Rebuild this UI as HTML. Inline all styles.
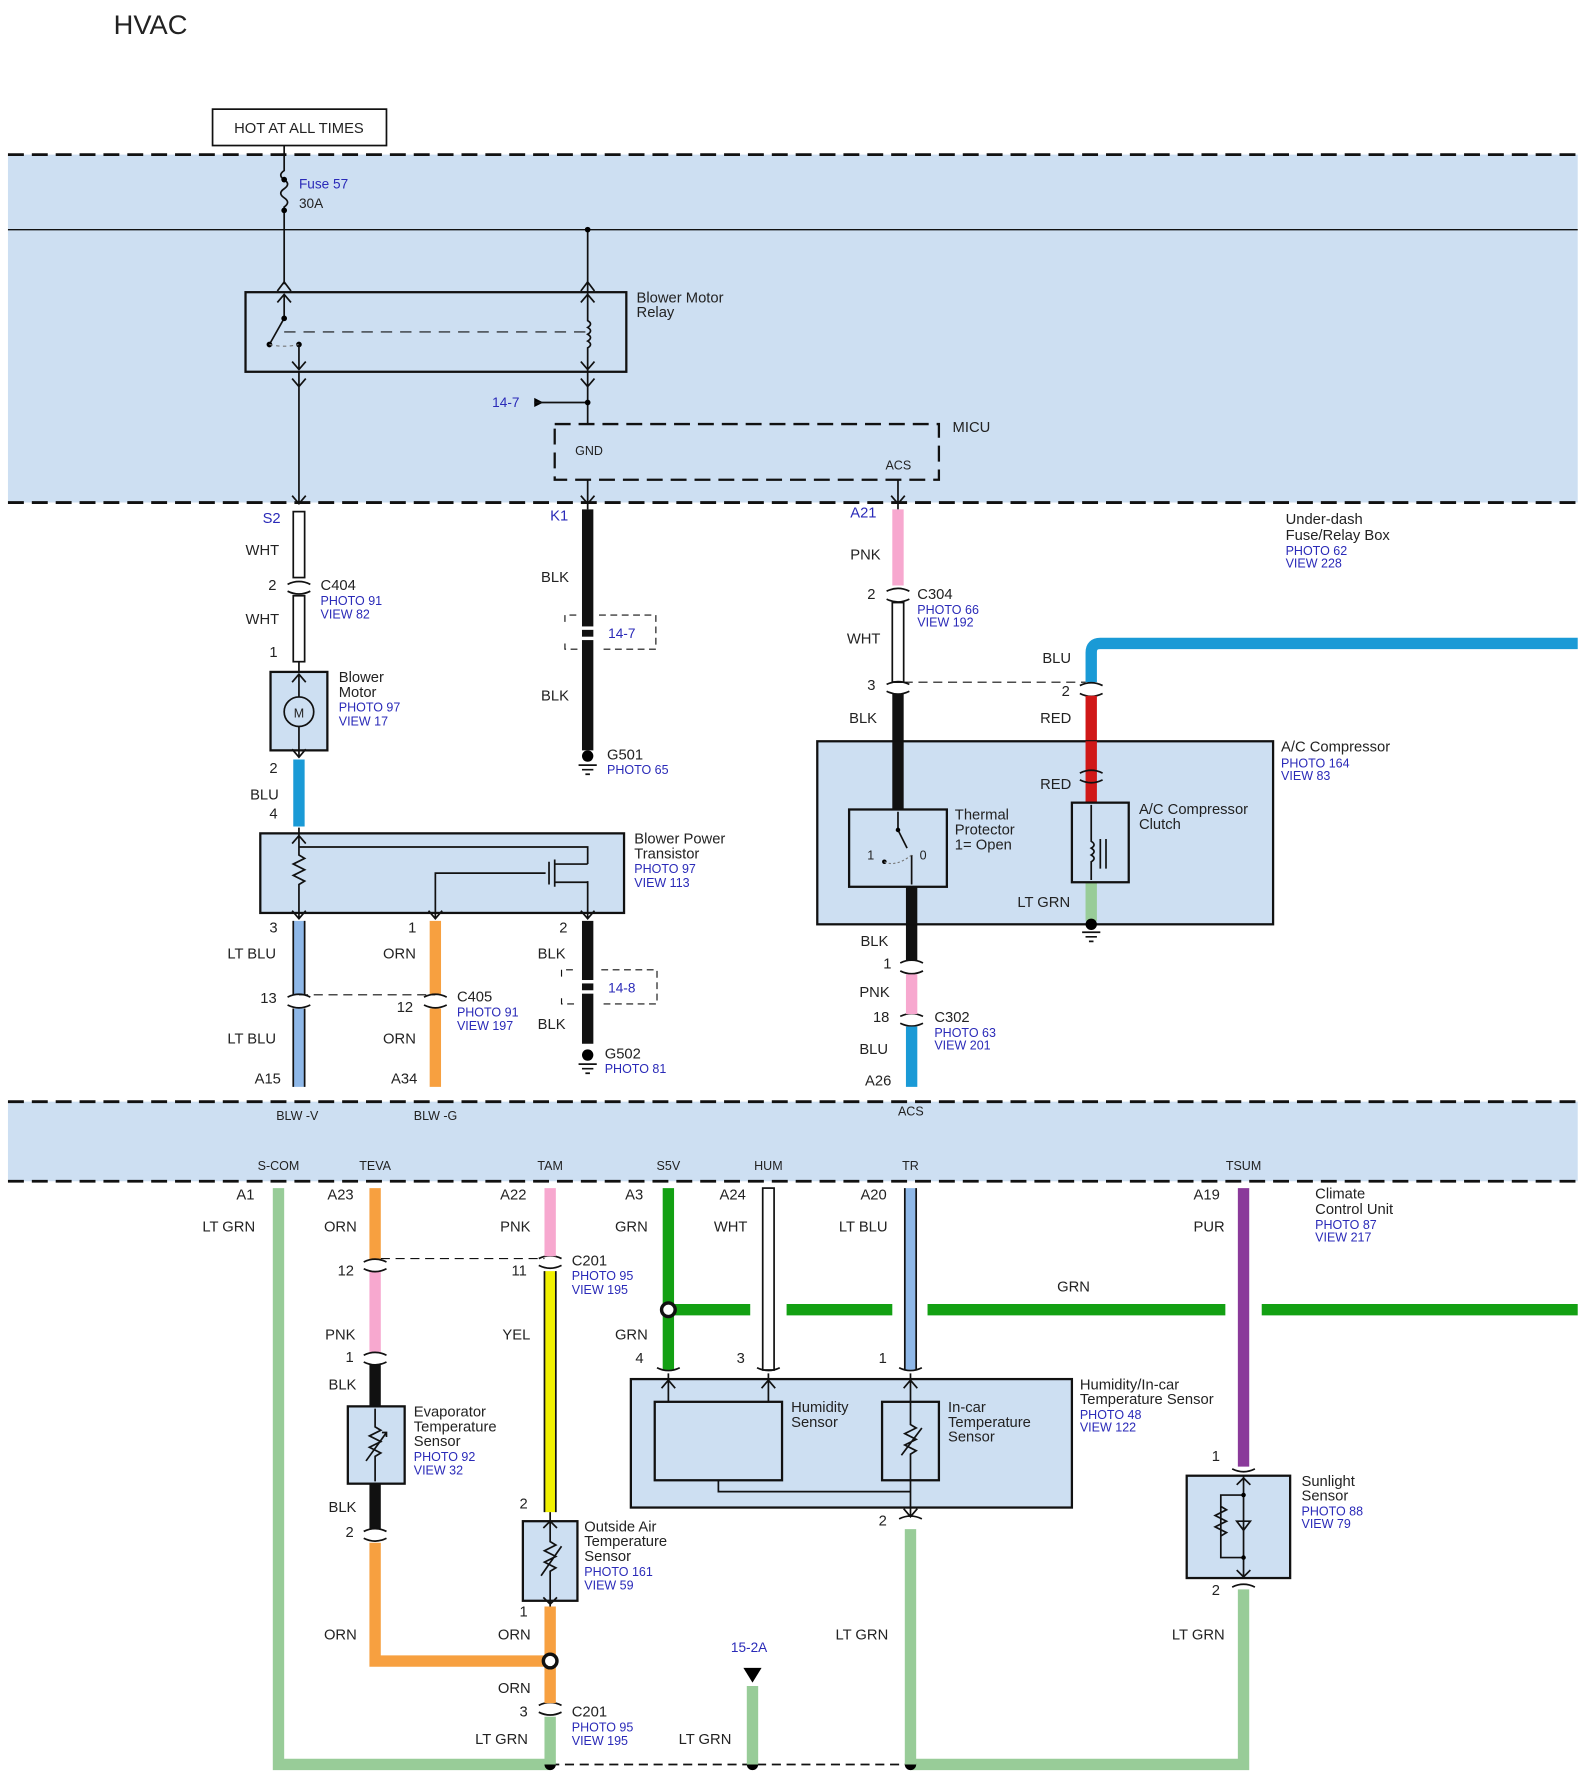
<!DOCTYPE html>
<html><head><meta charset="utf-8"><style>
html,body{margin:0;padding:0;background:#fff;}
svg{display:block}
text{font-family:"Liberation Sans",Arial,sans-serif;font-size:13px;fill:#222}
.b{fill:#2a2ab8;font-size:11px}
.s{font-size:11px}
.blk{stroke:#111;stroke-width:1.5;fill:none}
.dash{stroke:#111;stroke-width:2.5;stroke-dasharray:14 7;fill:none}
.w{stroke-width:10;fill:none}
</style></head><body>
<svg width="1580" height="1777" viewBox="0 0 1390 1563" preserveAspectRatio="none" xmlns="http://www.w3.org/2000/svg">
<text x="100" y="30" style="font-size:24px">HVAC</text>
<rect x="187" y="96" width="153" height="32" fill="#fff" stroke="#111" stroke-width="1.5"/>
<text x="263" y="117" text-anchor="middle">HOT AT ALL TIMES</text>
<rect x="7" y="136" width="1381" height="306" fill="#cddff2"/>
<rect x="7" y="969" width="1381" height="70" fill="#cddff2"/>
<line x1="7" y1="136" x2="1388" y2="136" class="dash"/>
<line x1="7" y1="202" x2="1388" y2="202" stroke="#111" stroke-width="1.2"/>
<line x1="7" y1="442" x2="1388" y2="442" class="dash"/>
<line x1="7" y1="969" x2="1388" y2="969" class="dash"/>
<line x1="7" y1="1039" x2="1388" y2="1039" class="dash"/>

<!-- fuse -->
<path class="blk" d="M250 128V150 q-6 4 0 8 q6 4 0 8 q-6 4 0 8 q6 4 0 8 V250"/>
<circle cx="250" cy="158" r="2.5"/><circle cx="250" cy="185" r="2.5"/>
<text x="263" y="166" class="b" style="font-size:12px">Fuse 57</text>
<text x="263" y="183" class="s" style="font-size:12px">30A</text>
<path class="blk" d="M244 256L250 248L256 256M244 266L250 259L256 266"/>
<!-- relay -->
<rect x="216" y="257" width="335" height="70" fill="none" stroke="#111" stroke-width="2"/>
<path class="blk" d="M250 259V280L237 303"/><circle cx="250" cy="280" r="2.5"/><circle cx="237" cy="303" r="2.5"/><circle cx="263" cy="303" r="2.5"/>
<path d="M237 303 q13 3 26 0" stroke="#777" fill="none" stroke-dasharray="3 3"/>
<path class="blk" d="M263 303V325M257 318L263 325L269 318"/>
<line x1="250" y1="292" x2="515" y2="292" stroke="#111" stroke-dasharray="10 7"/>
<path class="blk" d="M517 202V282 q5 3 0 6 q5 3 0 6 q5 3 0 6 q5 3 0 6 V373"/>
<circle cx="517" cy="202" r="2.5"/>
<path class="blk" d="M511 256L517 248L523 256M511 266L517 259L523 266M511 318L517 325L523 318M511 333L517 340L523 333"/>
<path class="blk" d="M263 327V442M257 333L263 340L269 333M257 436L263 443L269 436"/>
<text x="560" y="266">Blower Motor</text><text x="560" y="279">Relay</text>
<path d="M470 350L478 354L470 358Z"/><line x1="470" y1="354" x2="517" y2="354" stroke="#111" stroke-width="1.5"/><circle cx="517" cy="354" r="2.5"/>
<text x="433" y="358" class="b" style="font-size:12px">14-7</text>
<!-- MICU -->
<rect x="488" y="373" width="338" height="49" fill="none" stroke="#111" stroke-width="2" stroke-dasharray="14 7"/>
<text x="506" y="400" class="s">GND</text><text x="779" y="413" class="s">ACS</text><text x="838" y="380">MICU</text>
<path class="blk" d="M517 422V448M511 436L517 443L523 436M790 422V448M784 436L790 443L796 436"/>

<!-- S2 column -->
<text x="231" y="460" class="b" style="font-size:13px">S2</text>
<rect x="258" y="450" width="10" height="58" fill="#fff" stroke="#111" stroke-width="1.5"/>
<rect x="258" y="524" width="10" height="58" fill="#fff" stroke="#111" stroke-width="1.5"/>
<path class="blk" stroke-width="2" d="M253 514q10-5 20 0M253 520q10 5 20 0"/>
<text x="216" y="488">WHT</text><text x="236" y="519">2</text><text x="216" y="549">WHT</text><text x="237" y="578">1</text>
<text x="282" y="519">C404</text><text x="282" y="532" class="b">PHOTO 91</text><text x="282" y="544" class="b">VIEW 82</text>
<path class="blk" d="M263 582V591"/>
<rect x="238" y="591" width="50" height="69" fill="#cddff2" stroke="#111" stroke-width="2"/>
<circle cx="263" cy="626" r="13" fill="none" stroke="#111" stroke-width="1.5"/><text x="263" y="631" text-anchor="middle" class="s">M</text>
<path class="blk" d="M263 593V613M263 639V666M257 600L263 593L269 600M257 659L263 666L269 659"/>
<text x="298" y="600">Blower</text><text x="298" y="613">Motor</text><text x="298" y="626" class="b">PHOTO 97</text><text x="298" y="638" class="b">VIEW 17</text>
<line x1="263" y1="668" x2="263" y2="727" stroke="#1a9ad6" class="w"/>
<text x="237" y="680">2</text><text x="220" y="703">BLU</text><text x="237" y="720">4</text>
<!-- power transistor -->
<rect x="229" y="733" width="320" height="70" fill="#cddff2" stroke="#111" stroke-width="2"/>
<path class="blk" d="M263 728V752 l5 3 -10 5 10 5 -10 5 10 5 -5 3 V808M257 742L263 735L269 742M257 801L263 808L269 801"/>
<path class="blk" d="M263 745H517V760M517 775V808M511 801L517 808L523 801M480 768H383V808M377 801L383 808L389 801"/>
<path class="blk" d="M483 758V778M488 756V780M488 760H517M488 776H517"/>
<text x="558" y="742">Blower Power</text><text x="558" y="755">Transistor</text><text x="558" y="768" class="b">PHOTO 97</text><text x="558" y="780" class="b">VIEW 113</text>
<!-- below transistor -->
<line x1="263" y1="810" x2="263" y2="875" stroke="#8fb8e8" class="w"/><line x1="263" y1="887" x2="263" y2="956" stroke="#8fb8e8" class="w"/>
<path class="blk" d="M258 810V875M268 810V875M258 887V956M268 887V956" stroke-width="1"/>
<line x1="383" y1="810" x2="383" y2="875" stroke="#f7a040" class="w"/><line x1="383" y1="887" x2="383" y2="956" stroke="#f7a040" class="w"/>
<path class="blk" stroke-width="2" d="M253 877q10-5 20 0M253 884q10 5 20 0M373 877q10-5 20 0M373 884q10 5 20 0"/>
<line x1="263" y1="875" x2="383" y2="875" stroke="#111" stroke-dasharray="8 5"/>
<text x="237" y="820">3</text><text x="200" y="843">LT BLU</text><text x="229" y="882">13</text><text x="200" y="918">LT BLU</text><text x="224" y="953">A15</text>
<text x="359" y="820">1</text><text x="337" y="843">ORN</text><text x="349" y="890">12</text><text x="337" y="918">ORN</text><text x="344" y="953">A34</text>
<text x="402" y="881">C405</text><text x="402" y="894" class="b">PHOTO 91</text><text x="402" y="906" class="b">VIEW 197</text>
<line x1="517" y1="810" x2="517" y2="918" stroke="#111" class="w"/>
<path d="M494 859V853H505M529 853H578V883H529M505 883H494V877" fill="none" stroke="#111" stroke-dasharray="6 4"/>
<rect x="510" y="862" width="14" height="3" fill="#fff"/><rect x="510" y="871" width="14" height="3" fill="#fff"/>
<text x="535" y="873" class="b" style="font-size:12px">14-8</text>
<text x="492" y="820">2</text><text x="473" y="843">BLK</text><text x="473" y="905">BLK</text>
<circle cx="517" cy="928" r="5"/><path class="blk" d="M509 936H525M512 940H522M515 944H519"/>
<text x="532" y="931">G502</text><text x="532" y="944" class="b">PHOTO 81</text>
<text x="243" y="985" class="s">BLW -V</text><text x="364" y="985" class="s">BLW -G</text><text x="790" y="981" class="s">ACS</text>

<!-- K1 -->
<text x="484" y="458" class="b" style="font-size:13px">K1</text>
<line x1="517" y1="448" x2="517" y2="660" stroke="#111" class="w"/>
<path d="M497 547V541H508M527 541H577V571H527M508 571H497V565" fill="none" stroke="#111" stroke-dasharray="6 4"/>
<rect x="510" y="551" width="14" height="3" fill="#fff"/><rect x="510" y="560" width="14" height="3" fill="#fff"/>
<text x="535" y="561" class="b" style="font-size:12px">14-7</text>
<text x="476" y="512">BLK</text><text x="476" y="616">BLK</text>
<circle cx="517" cy="665" r="5"/><path class="blk" d="M509 673H525M512 677H522M515 681H519"/>
<text x="534" y="668">G501</text><text x="534" y="681" class="b">PHOTO 65</text>

<!-- A21 column -->
<text x="748" y="455" class="b" style="font-size:13px">A21</text>
<line x1="790" y1="448" x2="790" y2="515" stroke="#f7a8cf" class="w"/>
<rect x="785" y="530" width="10" height="70" fill="#fff" stroke="#111" stroke-width="1.5"/>
<path class="blk" stroke-width="2" d="M780 520q10-5 20 0M780 527q10 5 20 0M780 602q10-5 20 0M780 608q10 5 20 0"/>
<line x1="790" y1="610" x2="790" y2="712" stroke="#111" class="w"/>
<line x1="802" y1="780" x2="802" y2="845" stroke="#111" class="w"/>
<path class="blk" stroke-width="2" d="M792 847q10-5 20 0M792 854q10 5 20 0M792 894q10-5 20 0M792 900q10 5 20 0"/>
<line x1="802" y1="857" x2="802" y2="892" stroke="#f7a8cf" class="w"/>
<line x1="802" y1="903" x2="802" y2="956" stroke="#1a9ad6" class="w"/>
<text x="748" y="492">PNK</text><text x="763" y="527">2</text><text x="745" y="566">WHT</text><text x="763" y="607">3</text><text x="747" y="636">BLK</text>
<text x="807" y="527">C304</text><text x="807" y="540" class="b">PHOTO 66</text><text x="807" y="551" class="b">VIEW 192</text>
<line x1="795" y1="600" x2="955" y2="600" stroke="#111" stroke-dasharray="8 5"/>
<text x="757" y="832">BLK</text><text x="777" y="852">1</text><text x="756" y="877">PNK</text><text x="768" y="899">18</text><text x="756" y="927">BLU</text><text x="761" y="955">A26</text>
<text x="822" y="899">C302</text><text x="822" y="912" class="b">PHOTO 63</text><text x="822" y="923" class="b">VIEW 201</text>
<text x="1131" y="461">Under-dash</text><text x="1131" y="475">Fuse/Relay Box</text><text x="1131" y="488" class="b">PHOTO 62</text><text x="1131" y="499" class="b">VIEW 228</text>
<!-- A/C compressor -->
<path d="M1388 566H968Q960 566 960 574V600" stroke="#1a9ad6" class="w" stroke-width="12"/>
<path class="blk" stroke-width="2" d="M950 603q10-5 20 0M950 610q10 5 20 0"/>
<line x1="960" y1="612" x2="960" y2="708" stroke="#d01818" class="w" stroke-width="12"/>
<text x="917" y="583">BLU</text><text x="934" y="612">2</text><text x="915" y="636">RED</text>
<rect x="719" y="652" width="401" height="161" fill="#cddff2" stroke="#111" stroke-width="2"/>
<line x1="790" y1="652" x2="790" y2="712" stroke="#111" class="w"/>
<line x1="960" y1="652" x2="960" y2="706" stroke="#d01818" class="w" stroke-width="12"/>
<line x1="802" y1="780" x2="802" y2="813" stroke="#111" class="w"/>
<line x1="960" y1="776" x2="960" y2="810" stroke="#98cc98" class="w" stroke-width="12"/>
<path class="blk" d="M950 680q10-5 20 0M950 686q10 5 20 0"/>
<rect x="747" y="712" width="86" height="68" fill="#cddff2" stroke="#111" stroke-width="2"/>
<path class="blk" d="M790 714V730L798 746M802 752V778"/><circle cx="790" cy="730" r="2"/><circle cx="778" cy="758" r="2"/>
<path d="M778 758q10 5 24-6" stroke="#777" fill="none" stroke-dasharray="2 2"/>
<text x="763" y="756" class="s">1</text><text x="809" y="756" class="s">0</text>
<rect x="943" y="706" width="50" height="70" fill="#cddff2" stroke="#111" stroke-width="2"/>
<path class="blk" d="M960 708V740q5 3 0 6q5 3 0 6q5 3 0 6V774M968 738V764M973 738V764"/>
<circle cx="960" cy="813" r="5"/><path class="blk" d="M952 820H968M955 824H965M958 828H962"/>
<text x="915" y="694">RED</text><text x="895" y="798">LT GRN</text>
<text x="840" y="721">Thermal</text><text x="840" y="734">Protector</text><text x="840" y="747">1= Open</text>
<text x="1002" y="716">A/C Compressor</text><text x="1002" y="729">Clutch</text>
<text x="1127" y="661">A/C Compressor</text><text x="1127" y="675" class="b">PHOTO 164</text><text x="1127" y="686" class="b">VIEW 83</text>

<!-- lower band labels -->
<text x="245" y="1029" class="s" text-anchor="middle">S-COM</text><text x="330" y="1029" class="s" text-anchor="middle">TEVA</text>
<text x="484" y="1029" class="s" text-anchor="middle">TAM</text><text x="588" y="1029" class="s" text-anchor="middle">S5V</text>
<text x="676" y="1029" class="s" text-anchor="middle">HUM</text><text x="801" y="1029" class="s" text-anchor="middle">TR</text>
<text x="1094" y="1029" class="s" text-anchor="middle">TSUM</text>

<!-- bottom wires -->
<path d="M245 1045V1552H484" stroke="#98cc98" class="w"/>
<path d="M801 1552H1094V1398" stroke="#98cc98" class="w"/>
<line x1="484" y1="1552" x2="801" y2="1552" stroke="#111" stroke-dasharray="8 5" stroke-width="1.5"/>
<circle cx="484" cy="1552" r="5"/><circle cx="662" cy="1552" r="5"/><circle cx="801" cy="1552" r="5"/>
<!-- 330 -->
<line x1="330" y1="1045" x2="330" y2="1108" stroke="#f7a040" class="w"/>
<line x1="330" y1="1118" x2="330" y2="1190" stroke="#f7a8cf" class="w"/>
<line x1="330" y1="1200" x2="330" y2="1345" stroke="#111" class="w"/>
<path d="M330 1357V1461H484" stroke="#f7a040" class="w"/>
<path class="blk" stroke-width="2" d="M320 1110q10-5 20 0M320 1116q10 5 20 0M320 1192q10-5 20 0M320 1198q10 5 20 0M320 1347q10-5 20 0M320 1353q10 5 20 0M474 1107q10-5 20 0M474 1113q10 5 20 0M474 1500q10-5 20 0M474 1506q10 5 20 0"/>
<line x1="335" y1="1107" x2="479" y2="1107" stroke="#111" stroke-dasharray="8 5"/>
<rect x="306" y="1237" width="50" height="68" fill="#cddff2" stroke="#111" stroke-width="2"/>
<path class="blk" d="M330 1239V1255l5 3-10 5 10 5-10 5 10 5-5 3V1303M322 1285L340 1260M336 1260h4v4"/>
<text x="288" y="1055">A23</text><text x="285" y="1083">ORN</text><text x="297" y="1122">12</text><text x="286" y="1178">PNK</text><text x="304" y="1198">1</text><text x="289" y="1222">BLK</text><text x="289" y="1330">BLK</text><text x="304" y="1352">2</text><text x="285" y="1442">ORN</text>
<text x="364" y="1246">Evaporator</text><text x="364" y="1259">Temperature</text><text x="364" y="1272">Sensor</text><text x="364" y="1285" class="b">PHOTO 92</text><text x="364" y="1297" class="b">VIEW 32</text>
<text x="208" y="1055">A1</text><text x="178" y="1083">LT GRN</text>
<!-- 484 -->
<line x1="484" y1="1045" x2="484" y2="1105" stroke="#f7a8cf" class="w"/>
<line x1="484" y1="1118" x2="484" y2="1330" stroke="#f0f000" class="w"/>
<path class="blk" d="M479 1118V1330M489 1118V1330" stroke-width="1"/>
<line x1="484" y1="1413" x2="484" y2="1498" stroke="#f7a040" class="w"/>
<line x1="484" y1="1510" x2="484" y2="1552" stroke="#98cc98" class="w"/>
<circle cx="484" cy="1461" r="6" fill="#fff" stroke="#111" stroke-width="3"/>
<rect x="460" y="1338" width="48" height="70" fill="#cddff2" stroke="#111" stroke-width="2"/>
<path class="blk" d="M484 1330V1356l5 3-10 5 10 5-10 5 10 5-5 3V1413M476 1386L494 1360M478 1344L484 1338L490 1344M478 1405L484 1411L490 1405"/>
<text x="440" y="1055">A22</text><text x="440" y="1083">PNK</text><text x="450" y="1122">11</text><text x="442" y="1178">YEL</text><text x="457" y="1327">2</text><text x="457" y="1422">1</text><text x="438" y="1442">ORN</text><text x="438" y="1489">ORN</text><text x="457" y="1510">3</text><text x="418" y="1534">LT GRN</text>
<text x="503" y="1113">C201</text><text x="503" y="1126" class="b">PHOTO 95</text><text x="503" y="1138" class="b">VIEW 195</text>
<text x="503" y="1510">C201</text><text x="503" y="1523" class="b">PHOTO 95</text><text x="503" y="1535" class="b">VIEW 195</text>
<text x="514" y="1347">Outside Air</text><text x="514" y="1360">Temperature</text><text x="514" y="1373">Sensor</text><text x="514" y="1386" class="b">PHOTO 161</text><text x="514" y="1398" class="b">VIEW 59</text>
<!-- green -->
<line x1="588" y1="1045" x2="588" y2="1205" stroke="#13a013" class="w"/>
<path d="M588 1152H660M692 1152H785M816 1152H1078M1110 1152H1388" stroke="#13a013" class="w" stroke-width="12"/>
<circle cx="588" cy="1152" r="6" fill="#fff" stroke="#111" stroke-width="3"/>
<text x="550" y="1055">A3</text><text x="541" y="1083">GRN</text><text x="541" y="1178">GRN</text><text x="559" y="1199">4</text><text x="930" y="1136">GRN</text>
<rect x="671" y="1045" width="10" height="160" fill="#fff" stroke="#111" stroke-width="1.5"/>
<text x="633" y="1055">A24</text><text x="628" y="1083">WHT</text><text x="648" y="1199">3</text>
<line x1="801" y1="1045" x2="801" y2="1205" stroke="#8fb8e8" class="w"/>
<path class="blk" d="M796 1045V1205M806 1045V1205" stroke-width="1"/>
<text x="757" y="1055">A20</text><text x="738" y="1083">LT BLU</text><text x="773" y="1199">1</text>
<path class="blk" stroke-width="2" d="M578 1203q10 5 20 0M666 1203q10 5 20 0M791 1203q10 5 20 0M791 1336q10-5 20 0M1084 1292q10 5 20 0M1084 1396q10-5 20 0"/>
<rect x="555" y="1213" width="388" height="113" fill="#cddff2" stroke="#111" stroke-width="2"/>
<rect x="576" y="1233" width="112" height="69" fill="#cddff2" stroke="#111" stroke-width="2"/>
<rect x="776" y="1233" width="50" height="69" fill="#cddff2" stroke="#111" stroke-width="2"/>
<path class="blk" d="M588 1208V1233M676 1208V1233M582 1221L588 1214L594 1221M670 1221L676 1214L682 1221M632 1302V1312H801M801 1208V1253l5 3-10 5 10 5-10 5 10 5-5 3V1334M795 1221L801 1214L807 1221M793 1280L811 1256M795 1327L801 1334L807 1327"/>
<text x="696" y="1242">Humidity</text><text x="696" y="1255">Sensor</text>
<text x="834" y="1242">In-car</text><text x="834" y="1255">Temperature</text><text x="834" y="1268">Sensor</text>
<text x="950" y="1222">Humidity/In-car</text><text x="950" y="1235">Temperature Sensor</text><text x="950" y="1248" class="b">PHOTO 48</text><text x="950" y="1259" class="b">VIEW 122</text>
<line x1="801" y1="1345" x2="801" y2="1552" stroke="#98cc98" class="w"/>
<text x="773" y="1342">2</text><text x="735" y="1442">LT GRN</text>
<!-- 15-2A -->
<text x="643" y="1453" class="b" style="font-size:12px">15-2A</text>
<path d="M654 1467H670L662 1480Z"/>
<line x1="662" y1="1483" x2="662" y2="1552" stroke="#98cc98" class="w"/>
<text x="597" y="1534">LT GRN</text>
<!-- sunlight -->
<line x1="1094" y1="1045" x2="1094" y2="1290" stroke="#8a3a9a" class="w"/>
<text x="1050" y="1055">A19</text><text x="1050" y="1083">PUR</text><text x="1066" y="1285">1</text><text x="1066" y="1403">2</text><text x="1031" y="1442">LT GRN</text>
<rect x="1044" y="1298" width="91" height="90" fill="#cddff2" stroke="#111" stroke-width="2"/>
<path class="blk" d="M1094 1298V1388M1094 1315H1074V1370H1094M1074 1325l5 3-10 5 10 5-10 5 10 5-5 3M1088 1338L1100 1338L1094 1346ZM1088 1306L1094 1300L1100 1306M1088 1381L1094 1387L1100 1381"/>
<circle cx="1094" cy="1315" r="2"/><circle cx="1094" cy="1370" r="2"/>
<text x="1145" y="1307">Sunlight</text><text x="1145" y="1320">Sensor</text><text x="1145" y="1333" class="b">PHOTO 88</text><text x="1145" y="1344" class="b">VIEW 79</text>
<text x="1157" y="1054">Climate</text><text x="1157" y="1068">Control Unit</text><text x="1157" y="1081" class="b">PHOTO 87</text><text x="1157" y="1092" class="b">VIEW 217</text>
</svg>
</body></html>
